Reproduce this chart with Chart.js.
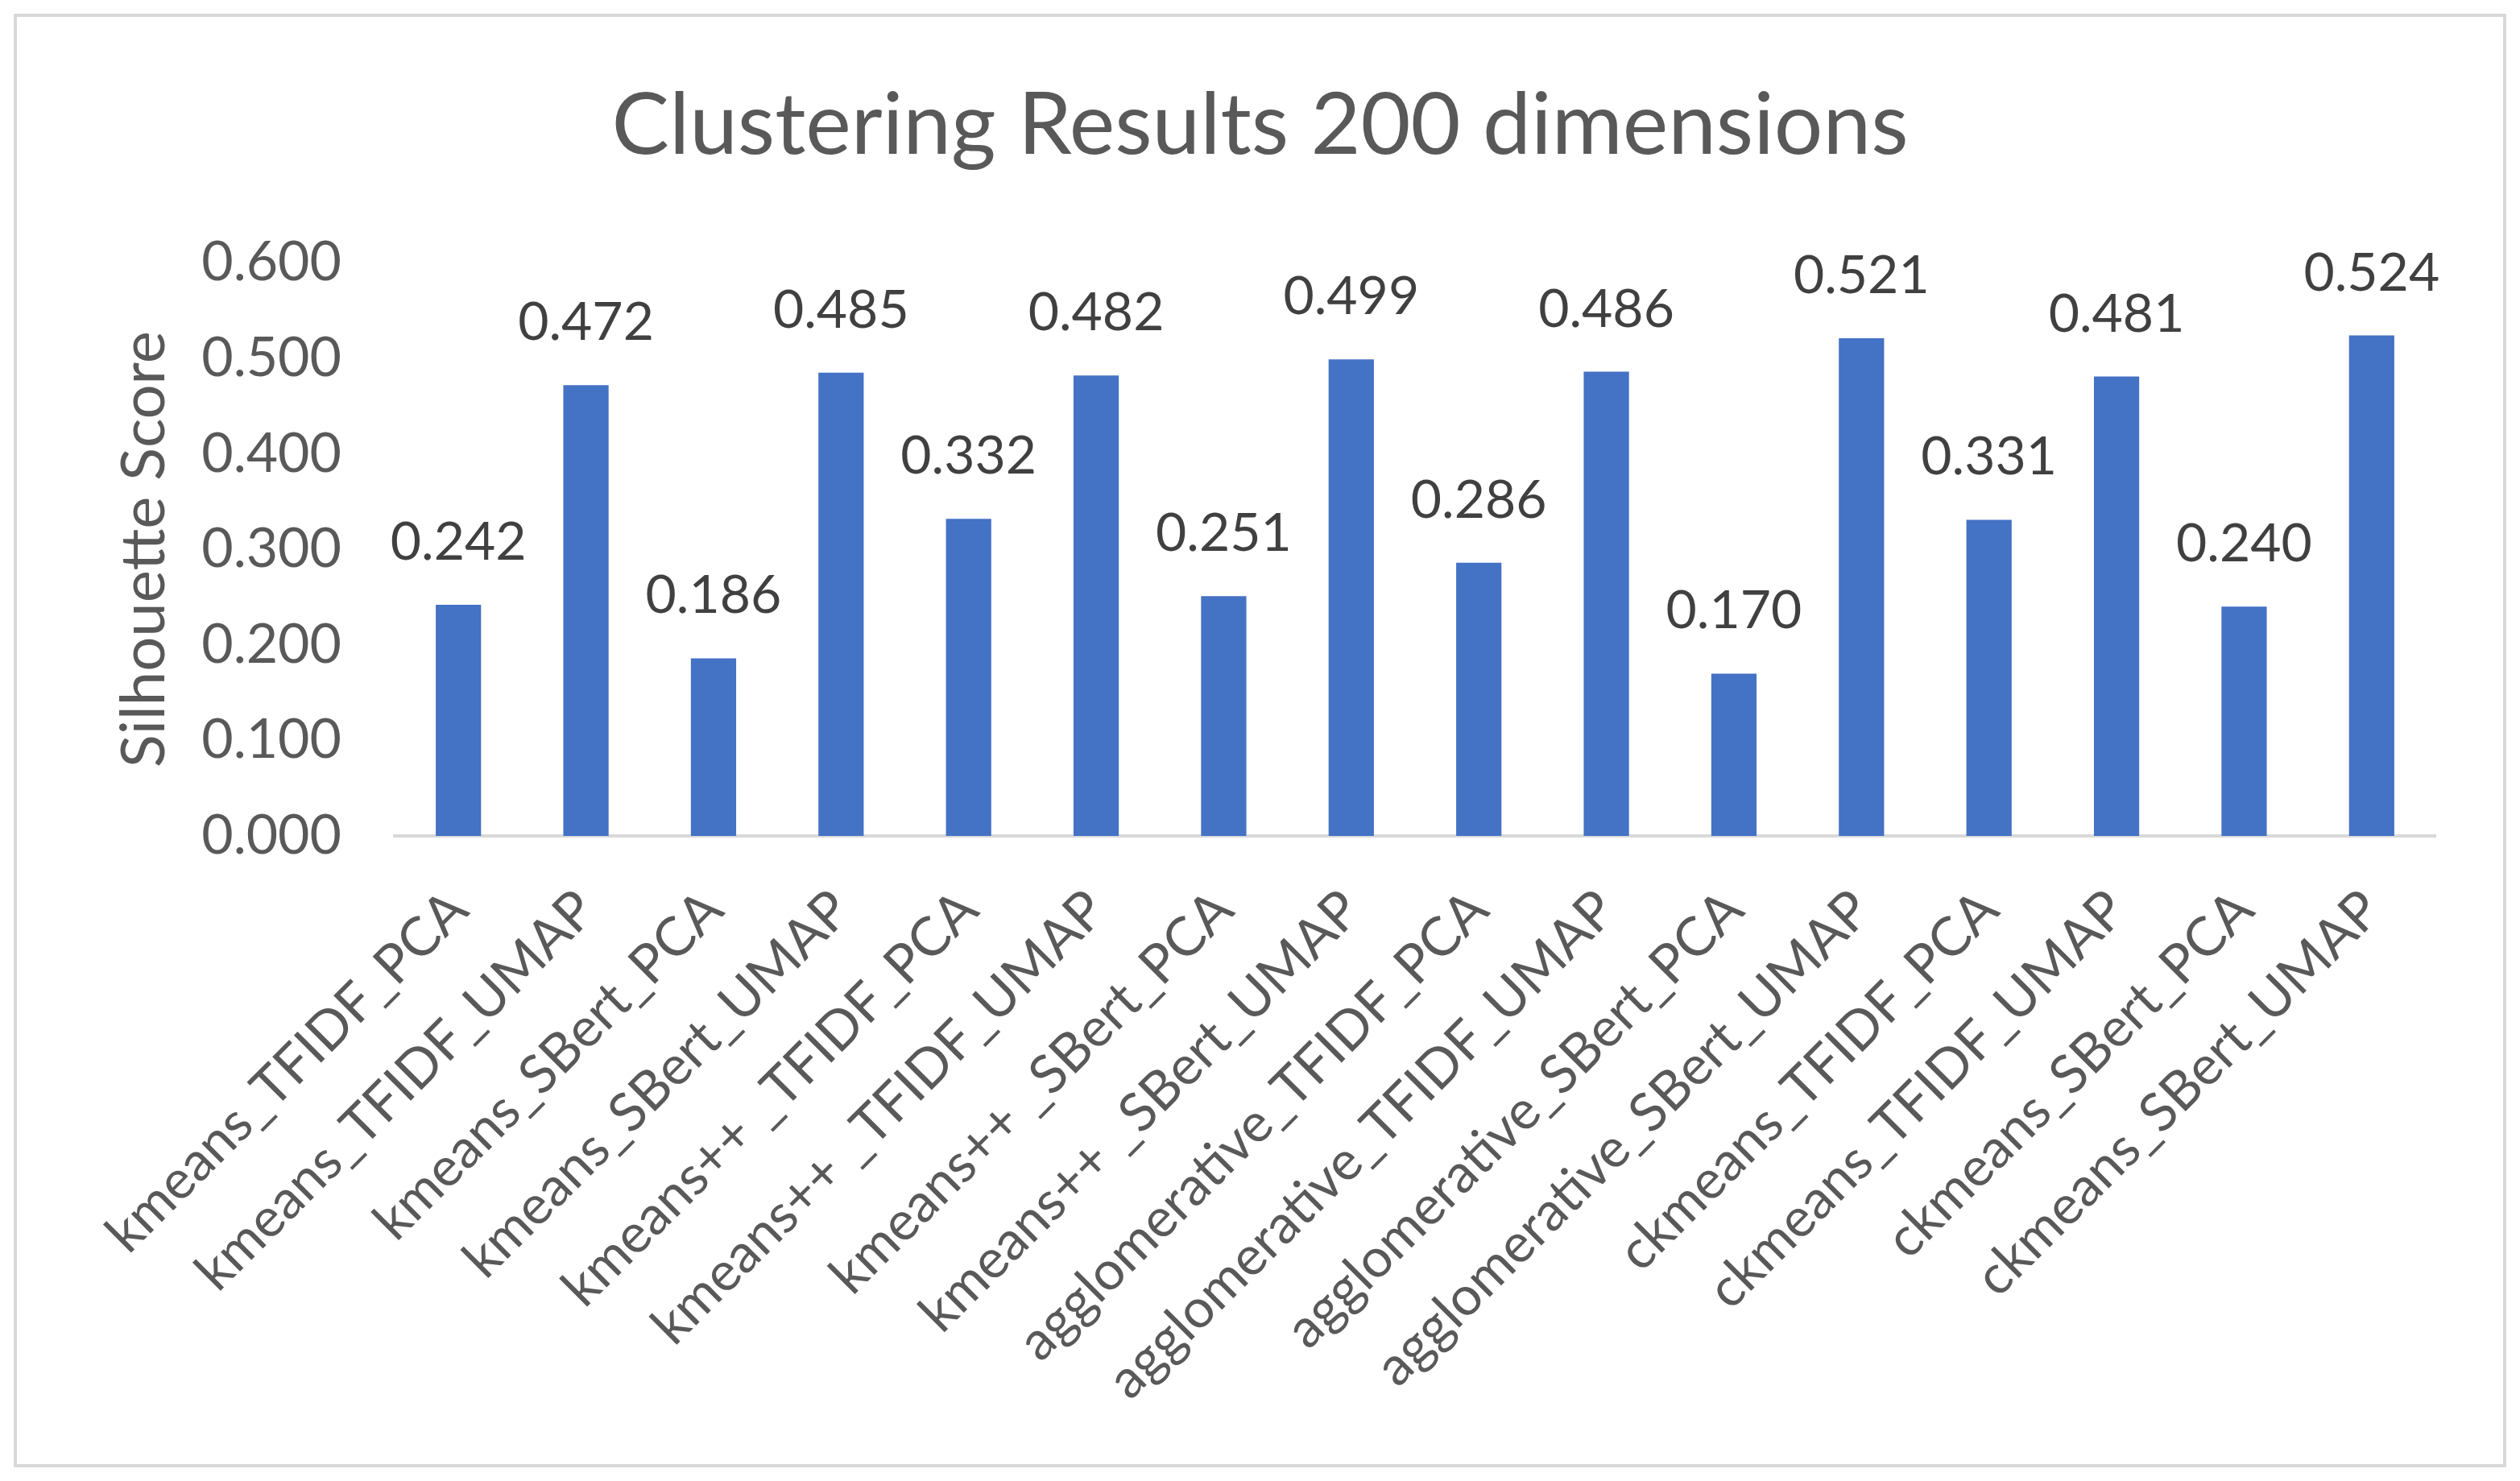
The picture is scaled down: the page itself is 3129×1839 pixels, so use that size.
<!DOCTYPE html>
<html>
<head>
<meta charset="utf-8">
<title>Clustering Results 200 dimensions</title>
<script src="https://cdn.jsdelivr.net/npm/chart.js@4.4.0/dist/chart.umd.min.js"></script>
<style>
    html, body { margin: 0; padding: 0; background: #ffffff; }
    canvas { display: block; }
</style>
</head>
<body>
<canvas id="clusterChart" width="3129" height="1839"></canvas>
<script>
// Data
const methods = [
    'kmeans_TFIDF_PCA', 'kmeans_TFIDF_UMAP', 'kmeans_SBert_PCA', 'kmeans_SBert_UMAP',
    'kmeans++ _TFIDF_PCA', 'kmeans++ _TFIDF_UMAP', 'kmeans++ _SBert_PCA', 'kmeans++ _SBert_UMAP',
    'agglomerative_TFIDF_PCA', 'agglomerative_TFIDF_UMAP', 'agglomerative_SBert_PCA', 'agglomerative_SBert_UMAP',
    'ckmeans_TFIDF_PCA', 'ckmeans_TFIDF_UMAP', 'ckmeans_SBert_PCA', 'ckmeans_SBert_UMAP'
];
const silhouetteScores = [
    0.242, 0.472, 0.186, 0.485,
    0.332, 0.482, 0.251, 0.499,
    0.286, 0.486, 0.170, 0.521,
    0.331, 0.481, 0.240, 0.524
];
const yMin = 0;
const yMax = 0.6;
const yStep = 0.1;

const FONT = 'Lato, "Open Sans", sans-serif';

// frame around the whole chart
const framePlugin = {
    id: 'frame',
    beforeDraw(chart) {
        const ctx = chart.ctx;
        ctx.save();
        ctx.fillStyle = '#ffffff';
        ctx.fillRect(0, 0, chart.width, chart.height);
        ctx.strokeStyle = '#d9d9d9';
        ctx.lineWidth = 4;
        ctx.strokeRect(19, 19, chart.width - 38, chart.height - 38);
        ctx.restore();
    }
};

// value labels above the bars
const valueLabels = {
    id: 'valueLabels',
    afterDatasetsDraw(chart) {
        const ctx = chart.ctx;
        const meta = chart.getDatasetMeta(0);
        ctx.save();
        ctx.font = '66px ' + FONT;
        ctx.fillStyle = '#404040';
        ctx.textAlign = 'center';
        ctx.textBaseline = 'alphabetic';
        meta.data.forEach((bar, i) => {
            ctx.fillText(silhouetteScores[i].toFixed(3), bar.x, bar.y - 56);
        });
        ctx.restore();
    }
};

const ctx = document.getElementById('clusterChart').getContext('2d');
const clusterChart = new Chart(ctx, {
    type: 'bar',
    data: {
        labels: methods,
        datasets: [{
            label: 'Silhouette Score',
            data: silhouetteScores,
            backgroundColor: '#4472c4',
            borderWidth: 0,
            categoryPercentage: 1,
            barPercentage: 0.355
        }]
    },
    options: {
        responsive: false,
        animation: false,
        devicePixelRatio: 1,
        // symmetric padding so the title sits in the middle of the page
        layout: {
            padding: { top: 0, left: 67, right: 67, bottom: 41 }
        },
        plugins: {
            legend: { display: false },
            tooltip: { enabled: false },
            title: {
                display: true,
                text: 'Clustering Results 200 dimensions',
                color: '#595959',
                font: { family: FONT, size: 107, weight: 'normal', lineHeight: 1.2 },
                padding: { top: 92, bottom: 106 }
            }
        },
        scales: {
            x: {
                grid: { display: false },
                border: { display: true, color: '#d9d9d9', width: 4 },
                ticks: {
                    color: '#595959',
                    font: { family: FONT, size: 67 },
                    minRotation: 45,
                    maxRotation: 45,
                    autoSkip: false,
                    padding: 44
                },
                afterFit(scale) {
                    scale.height = 760;
                    scale.paddingRight = 105;
                }
            },
            y: {
                min: yMin,
                max: yMax,
                grid: { display: false },
                border: { display: false },
                ticks: {
                    stepSize: yStep,
                    color: '#595959',
                    font: { family: FONT, size: 68 },
                    padding: 58,
                    callback: function(value) {
                        return Number(value).toFixed(3);
                    }
                },
                title: {
                    display: true,
                    text: 'Silhouette Score',
                    color: '#595959',
                    font: { family: FONT, size: 76, lineHeight: 1.2 },
                    padding: { top: 67, bottom: 0 }
                },
                afterFit(scale) {
                    scale.width = 423;
                }
            }
        }
    },
    plugins: [framePlugin, valueLabels]
});
</script>
</body>
</html>
